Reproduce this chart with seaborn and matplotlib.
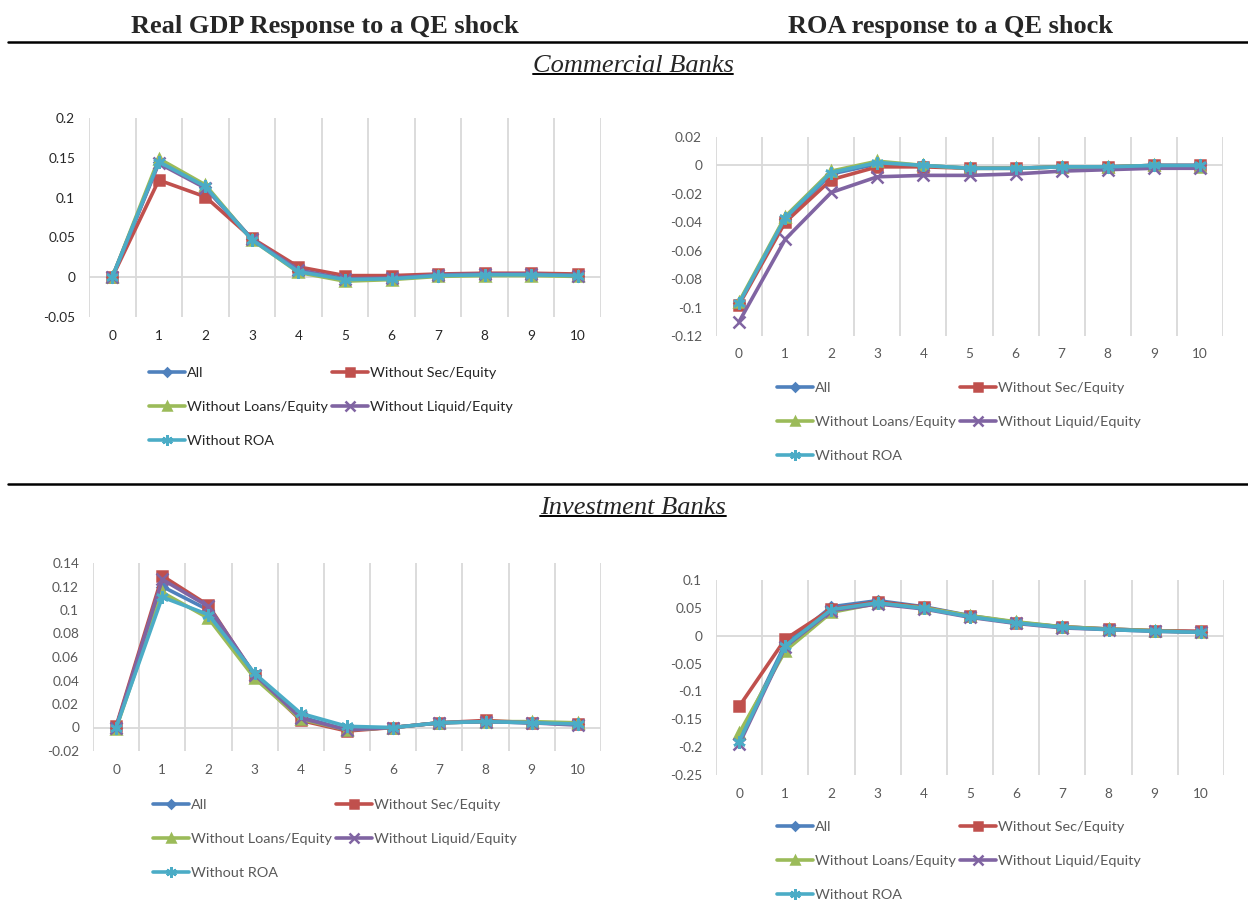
import matplotlib
matplotlib.use("Agg")
import matplotlib.pyplot as plt
from matplotlib.lines import Line2D
import numpy as np
import pandas as pd
import seaborn as sns

periods = list(range(11))
series_names = ["All", "Without Sec/Equity", "Without Loans/Equity", "Without Liquid/Equity", "Without ROA"]
series_colors = ["#4F81BD", "#C0504D", "#9BBB59", "#8064A2", "#4BACC6"]
series_markers = ["D", "s", "^", "x", (6, 2, 0)]
series_msizes = [5, 7, 7.5, 8, 9]

# Real GDP response, commercial banks
gdp_cb_all = [0, 0.145, 0.113, 0.048, 0.008, -0.003, -0.002, 0.002, 0.003, 0.003, 0.002]
gdp_cb_sec = [0, 0.122, 0.101, 0.049, 0.013, 0.002, 0.002, 0.004, 0.005, 0.005, 0.004]
gdp_cb_loans = [0, 0.149, 0.116, 0.047, 0.006, -0.005, -0.003, 0.001, 0.002, 0.002, 0.001]
gdp_cb_liquid = [0, 0.143, 0.112, 0.048, 0.009, -0.002, -0.001, 0.003, 0.004, 0.004, 0.002]
gdp_cb_roa = [0, 0.145, 0.114, 0.047, 0.007, -0.003, -0.002, 0.002, 0.003, 0.003, 0.002]

# ROA response, commercial banks
roa_cb_all = [-0.097, -0.038, -0.006, 0.001, 0.0, -0.002, -0.002, -0.001, -0.001, 0.0, 0.0]
roa_cb_sec = [-0.098, -0.040, -0.010, -0.001, -0.001, -0.002, -0.002, -0.001, -0.001, 0.0, 0.0]
roa_cb_loans = [-0.096, -0.036, -0.004, 0.003, 0.0, -0.002, -0.002, -0.001, -0.001, 0.0, -0.001]
roa_cb_liquid = [-0.110, -0.052, -0.019, -0.008, -0.007, -0.007, -0.006, -0.004, -0.003, -0.002, -0.002]
roa_cb_roa = [-0.097, -0.037, -0.005, 0.002, 0.0, -0.002, -0.002, -0.001, -0.001, 0.0, 0.0]

# Real GDP response, investment banks
gdp_ib_all = [0, 0.120, 0.100, 0.045, 0.009, -0.002, 0.0, 0.004, 0.005, 0.004, 0.003]
gdp_ib_sec = [0.001, 0.129, 0.104, 0.044, 0.006, -0.003, 0.0, 0.004, 0.006, 0.004, 0.003]
gdp_ib_loans = [-0.001, 0.115, 0.093, 0.042, 0.007, -0.002, 0.0, 0.004, 0.005, 0.005, 0.004]
gdp_ib_liquid = [0, 0.126, 0.103, 0.045, 0.008, -0.002, 0.0, 0.004, 0.005, 0.004, 0.002]
gdp_ib_roa = [0, 0.111, 0.096, 0.046, 0.012, 0.001, 0.0, 0.004, 0.005, 0.004, 0.003]

# ROA response, investment banks
roa_ib_all = [-0.185, -0.015, 0.052, 0.063, 0.052, 0.036, 0.024, 0.016, 0.012, 0.009, 0.007]
roa_ib_sec = [-0.127, -0.006, 0.048, 0.061, 0.051, 0.035, 0.023, 0.016, 0.012, 0.009, 0.008]
roa_ib_loans = [-0.175, -0.027, 0.042, 0.058, 0.050, 0.036, 0.025, 0.016, 0.012, 0.009, 0.006]
roa_ib_liquid = [-0.195, -0.020, 0.045, 0.057, 0.048, 0.033, 0.022, 0.014, 0.011, 0.008, 0.006]
roa_ib_roa = [-0.190, -0.018, 0.047, 0.059, 0.049, 0.034, 0.023, 0.015, 0.011, 0.008, 0.006]

gdp_cb_ticks = [-0.05, 0, 0.05, 0.1, 0.15, 0.2]
roa_cb_ticks = [-0.12, -0.1, -0.08, -0.06, -0.04, -0.02, 0, 0.02]
gdp_ib_ticks = [-0.02, 0, 0.02, 0.04, 0.06, 0.08, 0.1, 0.12, 0.14]
roa_ib_ticks = [-0.25, -0.2, -0.15, -0.1, -0.05, 0, 0.05, 0.1]

W, H = 1248, 916


def to_long(columns):
    frames = []
    for name, vals in zip(series_names, columns):
        frames.append(pd.DataFrame({"period": periods, "value": vals, "series": name}))
    return pd.concat(frames, ignore_index=True)


def fig_rect(left, top, right, bottom):
    return [left / W, 1 - bottom / H, (right - left) / W, (bottom - top) / H]


def draw_panel(fig, rect, columns, yticks, legend_xy, text_color):
    ax = fig.add_axes(fig_rect(*rect))
    df = to_long(columns)
    for name, color, mk, ms in zip(series_names, series_colors, series_markers, series_msizes):
        sub = df[df["series"] == name]
        sns.lineplot(data=sub, x="period", y="value", color=color, marker=mk,
                     markersize=ms, markeredgecolor=color, markeredgewidth=1.8,
                     linewidth=2.6, label=name, ax=ax, legend=False, zorder=3)
    ax.set_xlim(-0.5, 10.5)
    ax.set_ylim(yticks[0], yticks[-1])
    ax.set_yticks(yticks)
    ax.set_yticklabels([f"{t:g}" for t in yticks])
    ax.set_xticks(periods)
    for b in np.arange(-0.5, 11, 1.0):
        ax.axvline(b, color="#D9D9D9", linewidth=1.3, zorder=1)
    ax.axhline(0, color="#D9D9D9", linewidth=1.3, zorder=1)
    for s in ax.spines.values():
        s.set_visible(False)
    ax.grid(False)
    ax.set_xlabel("")
    ax.set_ylabel("")
    ax.tick_params(axis="both", length=0, labelsize=9.8, colors=text_color)
    ax.tick_params(axis="y", pad=10)
    ax.tick_params(axis="x", pad=9)

    handles, labels = ax.get_legend_handles_labels()
    order = [0, 2, 4, 1, 3]
    leg = ax.legend([handles[i] for i in order], [labels[i] for i in order],
                    ncol=2, loc="upper left",
                    bbox_to_anchor=(legend_xy[0] / W, 1 - legend_xy[1] / H),
                    bbox_transform=fig.transFigure, frameon=False,
                    fontsize=10.4, labelspacing=1.5, handlelength=2.5,
                    handletextpad=0.15, columnspacing=0.25, borderpad=0,
                    borderaxespad=0, markerscale=0.85)
    for t in leg.get_texts():
        t.set_color(text_color)
    return ax


sns.set_theme(style="white")
plt.rcParams["font.family"] = ["Lato", "DejaVu Sans"]

fig = plt.figure(figsize=(W / 100, H / 100), dpi=100)

draw_panel(fig, (89, 118, 601, 317),
           [gdp_cb_all, gdp_cb_sec, gdp_cb_loans, gdp_cb_liquid, gdp_cb_roa],
           gdp_cb_ticks, (149, 367), "#262626")
draw_panel(fig, (716, 137, 1223, 336),
           [roa_cb_all, roa_cb_sec, roa_cb_loans, roa_cb_liquid, roa_cb_roa],
           roa_cb_ticks, (777, 382), "#595959")
draw_panel(fig, (93, 563, 601, 751),
           [gdp_ib_all, gdp_ib_sec, gdp_ib_loans, gdp_ib_liquid, gdp_ib_roa],
           gdp_ib_ticks, (153, 799), "#595959")
draw_panel(fig, (716, 580, 1224, 775),
           [roa_ib_all, roa_ib_sec, roa_ib_loans, roa_ib_liquid, roa_ib_roa],
           roa_ib_ticks, (777, 821), "#595959")

serif = ["Liberation Serif", "DejaVu Serif"]
fig.text(325 / W, 1 - 27 / H, "Real GDP Response to a QE shock", ha="center", va="center",
         fontsize=19, fontweight="bold", family=serif)
fig.text(950 / W, 1 - 27 / H, "ROA response to a QE shock", ha="center", va="center",
         fontsize=19, fontweight="bold", family=serif)

for y in (42, 484):
    fig.add_artist(Line2D([8 / W, 1.0], [1 - y / H, 1 - y / H], color="black", linewidth=1.8))

sections = []
for label, y in (("Commercial Banks", 66), ("Investment Banks", 508)):
    t = fig.text(633 / W, 1 - y / H, label, ha="center", va="center",
                 fontsize=19, fontstyle="italic", family=serif)
    sections.append(t)

fig.canvas.draw()
renderer = fig.canvas.get_renderer()
for t in sections:
    bb = t.get_window_extent(renderer)
    yline = (bb.y0 + 3) / H
    fig.add_artist(Line2D([bb.x0 / W, bb.x1 / W], [yline, yline], color="black", linewidth=1.4))

fig.savefig("out.png", dpi=100)
